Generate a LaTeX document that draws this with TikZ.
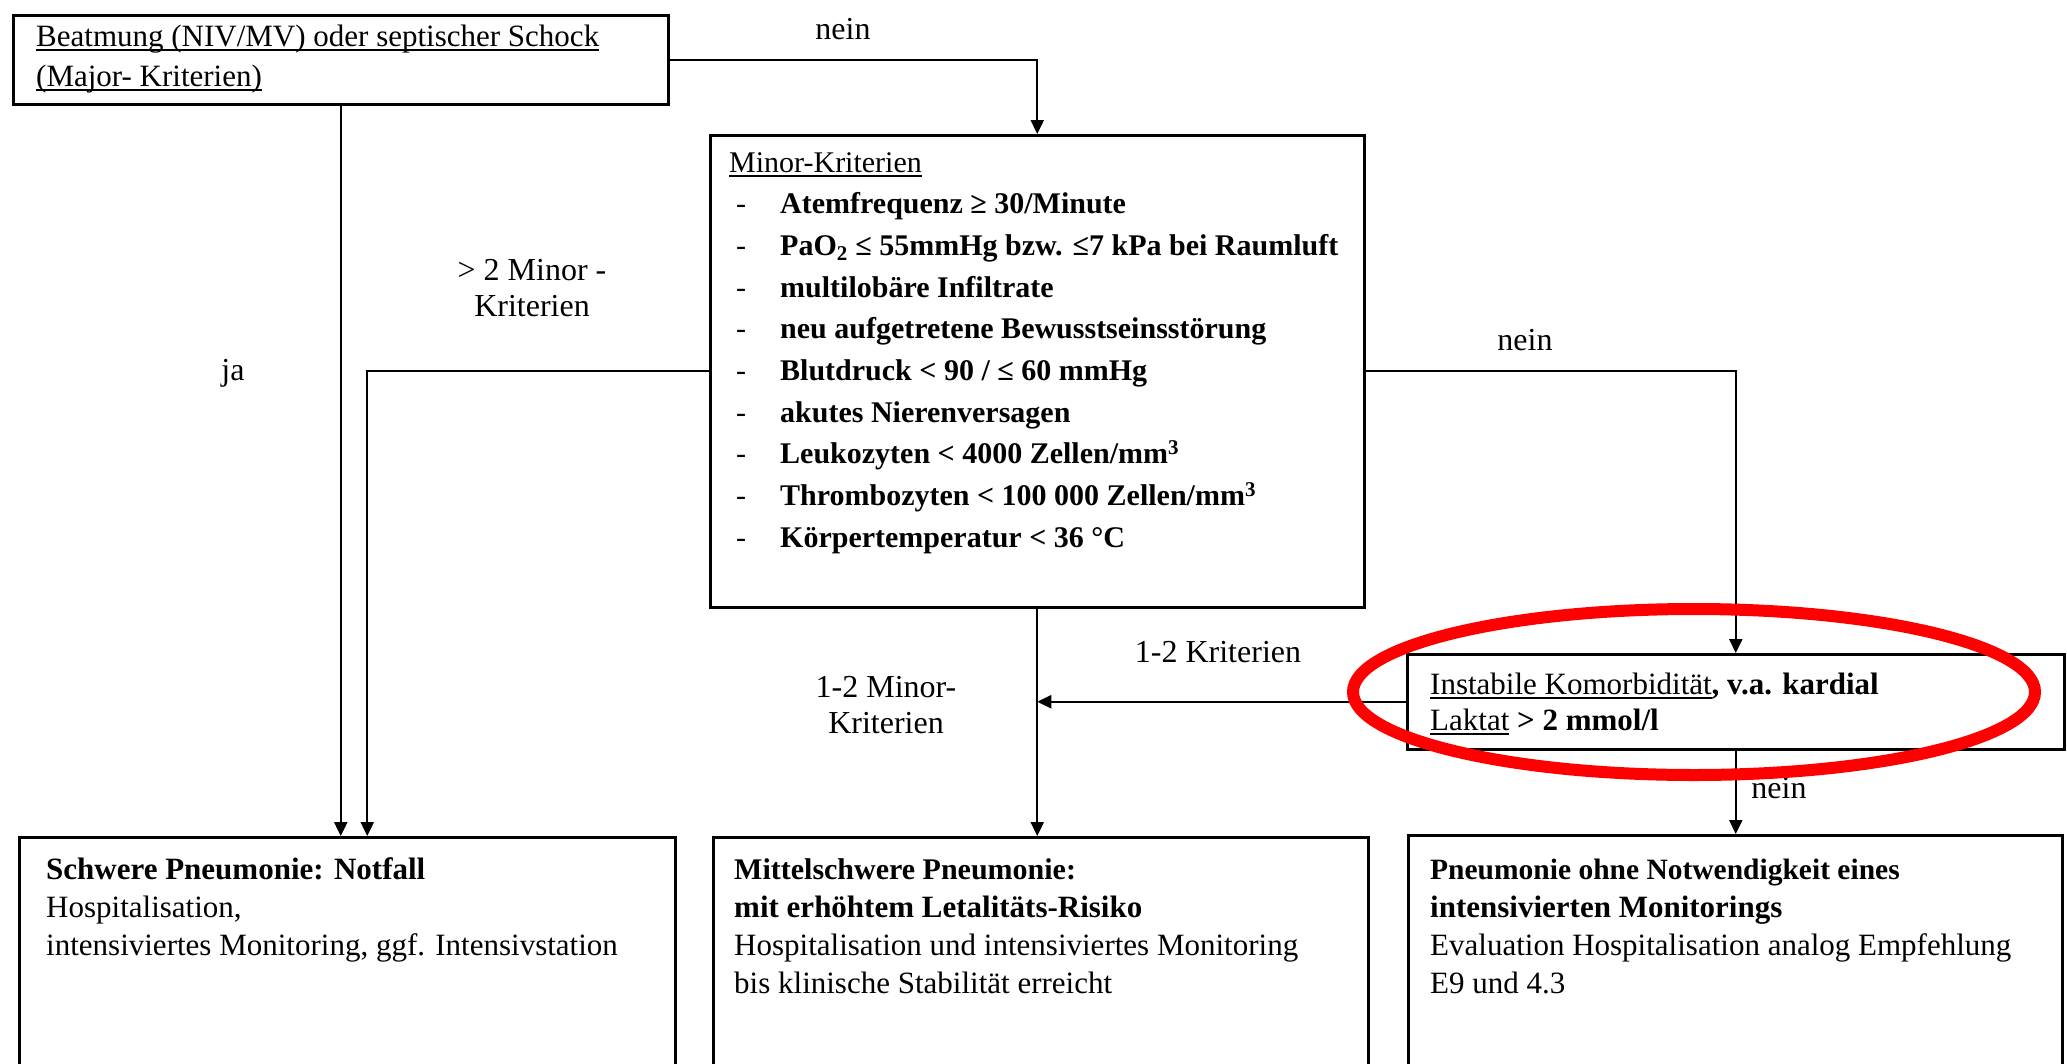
\documentclass[tikz,border=0pt]{standalone}
\usepackage{fontspec}
\setmainfont{Liberation Serif}
\usetikzlibrary{arrows.meta,calc}
\newcommand{\minoritem}[1]{\\\hspace*{7pt}\makebox[44pt][l]{-}\textbf{#1}}
\newcommand{\myul}[1]{\leavevmode\setbox0\hbox{#1}\rlap{\rule[-5pt]{\wd0}{1.8pt}}\box0\relax}
\begin{document}
\begin{tikzpicture}[x=1pt,y=-1pt,
  box/.style={draw, line width=2.5pt, inner sep=0pt, anchor=north west},
  conn/.style={line width=2.4pt, -{Triangle[length=14pt,width=13pt]}},
  lbl/.style={inner sep=0pt, font=\fontsize{32}{36}\selectfont, align=center},
  txt/.style={inner sep=0pt, anchor=base west},
  redmark/.style={draw={rgb,255:red,255;green,0;blue,0}, line width=12pt}]
\useasboundingbox (0,0) rectangle (2067,1063);
\clip (0,0) rectangle (2067,1063);
\fill[white] (0,0) rectangle (2067,1063);

% boxes
\node[box, minimum width=655pt, minimum height=89pt] (major) at (12,14) {};
\node[box, minimum width=654pt, minimum height=472pt] (minor) at (709,134) {};
\node[box, minimum width=657pt, minimum height=95pt] (inst) at (1406,653) {};
\node[box, minimum width=656pt, minimum height=300pt] (bl) at (18,836) {};
\node[box, minimum width=655pt, minimum height=300pt] (bm) at (712,836) {};
\node[box, minimum width=654pt, minimum height=300pt] (br) at (1407,834) {};

% texts
\node[txt] (majortxt) at (36,46) {\parbox[t]{620pt}{\fontsize{31}{40}\selectfont
  \myul{Beatmung (NIV/MV) oder septischer Schock}\\
  \myul{(Major- Kriterien)}}};
\node[txt] (minortxt) at (729,172) {\parbox[t]{630pt}{\fontsize{30}{41.7}\selectfont
  \myul{Minor-Kriterien}%
  \minoritem{Atemfrequenz ≥ 30/Minute}%
  \minoritem{PaO\textsubscript{2} ≤ 55mmHg bzw. ≤7 kPa bei Raumluft}%
  \minoritem{multilobäre Infiltrate}%
  \minoritem{neu aufgetretene Bewusstseinsstörung}%
  \minoritem{Blutdruck < 90 / ≤ 60 mmHg}%
  \minoritem{akutes Nierenversagen}%
  \minoritem{Leukozyten < 4000 Zellen/mm\textsuperscript{3}}%
  \minoritem{Thrombozyten < 100 000 Zellen/mm\textsuperscript{3}}%
  \minoritem{Körpertemperatur < 36 °C}}};
\node[txt] (insttxt) at (1430,694) {\parbox[t]{620pt}{\fontsize{31}{36}\selectfont
  \myul{Instabile Komorbidität}\textbf{, v.a. kardial}\\
  \myul{Laktat} \textbf{> 2 mmol/l}}};
\node[txt] (bltxt) at (46,879) {\parbox[t]{620pt}{\fontsize{31}{38}\selectfont
  \textbf{Schwere Pneumonie: Notfall}\\
  Hospitalisation,\\
  intensiviertes Monitoring, ggf. Intensivstation}};
\node[txt] (bmtxt) at (734,879) {\parbox[t]{620pt}{\fontsize{31}{38}\selectfont
  \textbf{\fontsize{30}{38}\selectfont Mittelschwere Pneumonie:}\\
  \textbf{mit erhöhtem Letalitäts-Risiko}\\
  Hospitalisation und intensiviertes Monitoring\\
  bis klinische Stabilität erreicht}};
\node[txt] (brtxt) at (1430,879) {\parbox[t]{620pt}{\fontsize{31}{38}\selectfont
  \textbf{\fontsize{29.5}{38}\selectfont Pneumonie ohne Notwendigkeit eines}\\
  \textbf{intensivierten Monitorings}\\
  Evaluation Hospitalisation analog Empfehlung\\
  E9 und 4.3}};

% connectors
\draw[conn] (major.east) -| (minor.north);
\draw[conn] (major.south) -- (major.south |- bl.north);
\draw[conn] (minor.west) -| ($(bl.north)+(20,0)$);
\draw[conn] (minor.east) -| (inst.north);
\draw[conn] (minor.south) -- (minor.south |- bm.north);
\draw[conn] (inst.west) -- (inst.west -| minor.south);
\draw[conn] (inst.south) -- (inst.south |- br.north);

% labels
\node[lbl] (l1) at (843,29) {nein};
\node[lbl] (l2) at (233,373) {ja};
\node[lbl] (l3) at (532,288) {> 2 Minor -\\Kriterien};
\node[lbl] (l4) at (1525,340) {nein};
\node[lbl] (l5) at (886,705) {1-2 Minor-\\Kriterien};
\node[lbl] (l6) at (1218,652) {1-2 Kriterien};
\node[lbl] (l7) at (1779,788) {nein};

% red annotation
\draw[redmark] (1694,692) ellipse [x radius=341, y radius=83];
\end{tikzpicture}
\end{document}
